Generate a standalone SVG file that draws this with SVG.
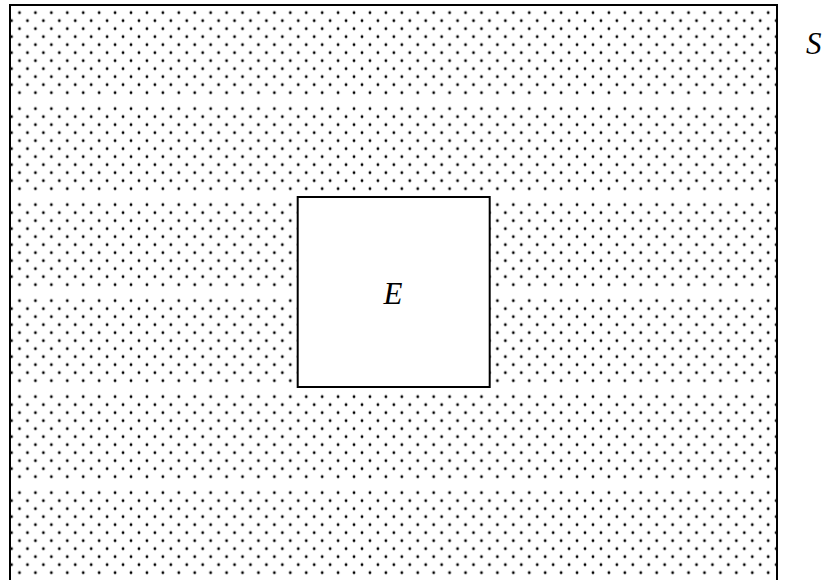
<svg xmlns="http://www.w3.org/2000/svg" width="827" height="580" viewBox="0 0 827 580">
  <style>
    .lbl { font-family: "Liberation Serif", "Times New Roman", serif; font-style: italic; font-size: 31px; fill: #000; }
    .frame { fill: none; stroke: #000; stroke-width: 2; }
  </style>
  <defs>
    <pattern id="dots" patternUnits="userSpaceOnUse" x="19.5" y="12.7" width="15.93" height="96">
      <g fill="#000">
        <circle cx="0" cy="0" r="1.4"/><circle cx="15.93" cy="0" r="1.4"/>
        <circle cx="0" cy="16" r="1.4"/><circle cx="15.93" cy="16" r="1.4"/>
        <circle cx="0" cy="32" r="1.4"/><circle cx="15.93" cy="32" r="1.4"/>
        <circle cx="0" cy="48" r="1.4"/><circle cx="15.93" cy="48" r="1.4"/>
        <circle cx="0" cy="64" r="1.4"/><circle cx="15.93" cy="64" r="1.4"/>
        <circle cx="0" cy="80" r="1.4"/><circle cx="15.93" cy="80" r="1.4"/>
        <circle cx="0" cy="96" r="1.4"/><circle cx="15.93" cy="96" r="1.4"/>
        <circle cx="7.965" cy="8" r="1.4"/>
        <circle cx="7.965" cy="24" r="1.4"/>
        <circle cx="7.965" cy="40" r="1.4"/>
        <circle cx="7.965" cy="56" r="1.4"/>
        <circle cx="7.965" cy="72" r="1.4"/>
      </g>
    </pattern>
  </defs>
  <rect width="827" height="580" fill="#fff"/>
  <g id="S">
    <rect x="11" y="6" width="765" height="580" fill="url(#dots)"/>
    <rect class="frame" x="10" y="5" width="767" height="580"/>
    <text class="lbl" x="806" y="54">S</text>
  </g>
  <g id="E">
    <rect x="297.7" y="197" width="192" height="190" fill="#fff" stroke="#000" stroke-width="2"/>
    <text class="lbl" x="393" y="304" text-anchor="middle">E</text>
  </g>
  <g id="connectors"/>
</svg>
